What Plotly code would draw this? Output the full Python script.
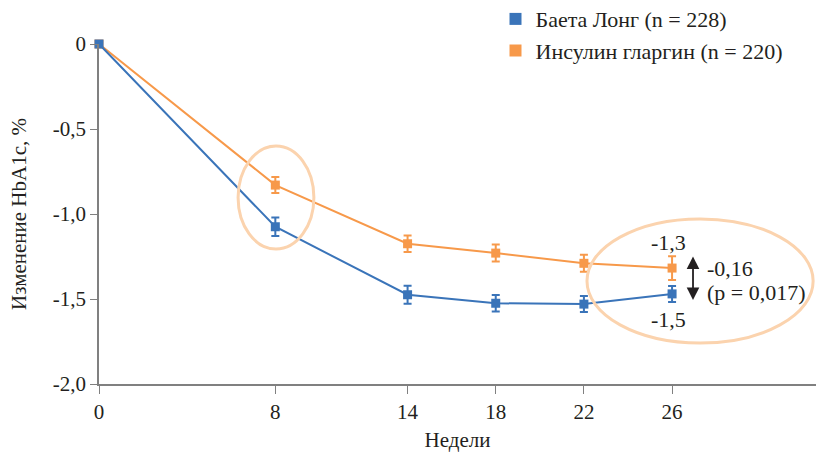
import plotly.graph_objects as go

weeks = [0, 8, 14, 18, 22, 26]
tick_labels_x = ["0", "8", "14", "18", "22", "26"]
y_ticks = [0, -0.5, -1.0, -1.5, -2.0]
y_tick_labels = ["0", "-0,5", "-1,0", "-1,5", "-2,0"]

bydureon = [0.0, -1.075, -1.475, -1.525, -1.53, -1.47]
bydureon_err = [0.0, 0.055, 0.053, 0.048, 0.047, 0.047]
glargine = [0.0, -0.83, -1.175, -1.23, -1.29, -1.318]
glargine_err = [0.0, 0.047, 0.048, 0.05, 0.05, 0.07]

name_b = "Баета Лонг (n = 228)"
name_g = "Инсулин гларгин (n = 220)"

BLUE = "#3A74B9"
ORANGE = "#F7994A"
PEACH = "#FBD3AE"
FONT = "Liberation Serif"
TXT = "#231F20"

fig = go.Figure()
fig.add_trace(go.Scatter(
    x=weeks, y=glargine, mode="lines+markers", showlegend=False,
    line=dict(color=ORANGE, width=2), marker=dict(symbol="square", size=9, color=ORANGE),
    error_y=dict(type="data", array=glargine_err, color=ORANGE, thickness=2, width=4),
    cliponaxis=False))
fig.add_trace(go.Scatter(
    x=weeks, y=bydureon, mode="lines+markers", showlegend=False,
    line=dict(color=BLUE, width=2), marker=dict(symbol="square", size=9, color=BLUE),
    error_y=dict(type="data", array=bydureon_err, color=BLUE, thickness=2, width=4),
    cliponaxis=False))
# legend entries
fig.add_trace(go.Scatter(x=[None], y=[None], mode="markers", name=name_b,
                         marker=dict(symbol="square", size=16, color=BLUE)))
fig.add_trace(go.Scatter(x=[None], y=[None], mode="markers", name=name_g,
                         marker=dict(symbol="square", size=16, color=ORANGE)))

# ellipses
fig.add_shape(type="circle", xref="x", yref="y", x0=6.31, x1=9.75, y0=-1.206, y1=-0.6,
              line=dict(color=PEACH, width=3))
fig.add_shape(type="circle", xref="x", yref="y", x0=22.14, x1=32.4, y0=-1.759, y1=-1.029,
              line=dict(color=PEACH, width=3))

tf = dict(family=FONT, size=22, color=TXT)
fig.add_annotation(x=25.86, y=-1.17, text="-1,3", showarrow=False, font=tf)
fig.add_annotation(x=25.86, y=-1.623, text="-1,5", showarrow=False, font=tf)
fig.add_annotation(x=27.5, y=-1.318, text="-0,16", showarrow=False, font=tf, xanchor="left")
fig.add_annotation(x=27.5, y=-1.459, text="(p = 0,017)", showarrow=False, font=tf, xanchor="left")
fig.add_annotation(x=26.95, y=-1.25, ax=26.95, ay=-1.515, axref="x", ayref="y",
                   xref="x", yref="y", text="", showarrow=True,
                   arrowhead=2, startarrowhead=2, arrowside="end+start",
                   arrowwidth=1.8, arrowcolor=TXT, arrowsize=1.4, startarrowsize=1.4)

fig.update_layout(
    width=816, height=452,
    margin=dict(l=99, r=0, t=44, b=68, autoexpand=False),
    paper_bgcolor="white", plot_bgcolor="white",
    font=dict(family=FONT, size=21, color=TXT),
    legend=dict(x=0.553, y=1.135, xanchor="left", yanchor="top",
                bgcolor="rgba(0,0,0,0)", font=dict(family=FONT, size=22, color=TXT),
                tracegroupgap=0, itemsizing="constant"),
    xaxis=dict(range=[0, 32.53], tickvals=weeks, ticktext=tick_labels_x, automargin=False,
               showgrid=False, zeroline=False, showline=True, linecolor="#808080", linewidth=1.5,
               ticks="outside", ticklen=8, tickcolor="#808080",
               title=dict(text="Недели", font=dict(family=FONT, size=21), standoff=10),
               tickfont=dict(family=FONT, size=21)),
    yaxis=dict(range=[-2.0, 0], tickvals=y_ticks, ticktext=y_tick_labels, automargin=False,
               showgrid=False, zeroline=False, showline=True, linecolor="#808080", linewidth=1.5,
               ticks="outside", ticklen=7, tickcolor="#808080",
               title=dict(text="Изменение HbA1c, %", font=dict(family=FONT, size=21), standoff=20),
               tickfont=dict(family=FONT, size=21)),
)

fig.write_html("out.html", config={"displayModeBar": False},
               post_script="document.body.style.margin='0';")
